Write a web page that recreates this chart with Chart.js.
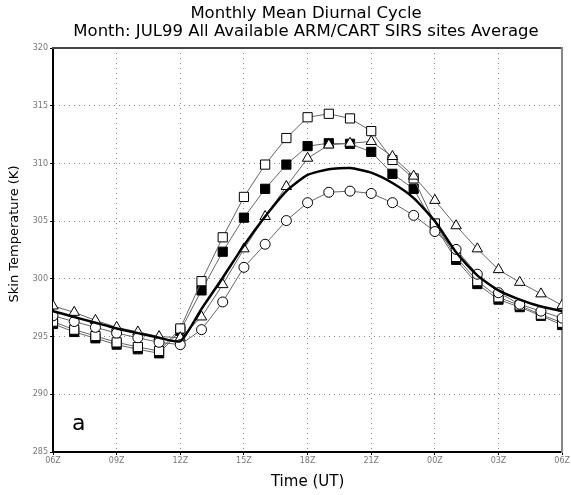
<!DOCTYPE html>
<html>
<head>
<meta charset="utf-8">
<script src="https://cdn.jsdelivr.net/npm/chart.js@4.4.1/dist/chart.umd.min.js"></script>
<style>
  html, body { margin: 0; padding: 0; background: #fff; }
  #wrap { width: 571px; height: 495px; }
</style>
</head>
<body>
<div id="wrap"><canvas id="chart" width="571" height="495"></canvas></div>
<script>
// hours after 06Z, one point per hour
var hours = [0,1,2,3,4,5,6,7,8,9,10,11,12,13,14,15,16,17,18,19,20,21,22,23,24];
var tickLabels = ['06Z','09Z','12Z','15Z','18Z','21Z','00Z','03Z','06Z'];
var yTicks = [285,290,295,300,305,310,315,320];
var titleLines = ['Monthly Mean Diurnal Cycle', 'Month: JUL99 All Available ARM/CART SIRS sites Average'];

var openSquares = [296.3,295.6,295.05,294.5,294.1,293.75,295.7,299.8,303.6,307.1,309.9,312.2,314.0,314.3,313.9,312.8,310.3,308.7,304.8,301.9,299.8,298.4,297.7,296.9,296.2];
var filledSquares = [296.1,295.4,294.85,294.3,293.9,293.55,295.5,299.0,302.35,305.3,307.8,309.9,311.5,311.75,311.7,311.0,309.1,307.8,304.6,301.65,299.55,298.2,297.55,296.8,296.0];
var triangles = [297.65,297.1,296.4,295.8,295.4,295.0,294.9,296.7,299.5,302.6,305.4,308.0,310.45,311.6,311.75,311.9,310.6,308.9,306.8,304.6,302.6,300.8,299.7,298.7,297.7];
var circles = [296.8,296.3,295.8,295.3,294.9,294.5,294.3,295.6,298.0,301.0,303.0,305.05,306.6,307.5,307.6,307.4,306.6,305.5,304.1,302.55,300.4,298.8,297.8,297.2,296.6];
var allSites = [297.2,296.7,296.2,295.7,295.3,294.9,294.6,297.4,300.1,302.9,305.4,307.6,309.0,309.5,309.6,309.2,308.3,307.0,305.0,302.3,300.3,299.0,298.2,297.6,297.2];

function pts(vals) {
  return hours.map(function (h, i) { return { x: h, y: vals[i] }; });
}

function markerSet(vals, style, fill, r) {
  return {
    data: pts(vals),
    borderColor: '#666',
    borderWidth: 1,
    pointStyle: style,
    pointRadius: r,
    pointBackgroundColor: fill,
    pointBorderColor: '#000',
    pointBorderWidth: 1,
    tension: 0
  };
}

// titles, y label and the panel letter
var textPlugin = {
  id: 'texts',
  afterDraw: function (chart) {
    var ctx = chart.ctx;
    var ca = chart.chartArea;
    ctx.save();
    ctx.fillStyle = '#000';
    ctx.textAlign = 'center';
    ctx.textBaseline = 'middle';
    ctx.font = '16.5px "DejaVu Sans", sans-serif';
    ctx.fillText(titleLines[0], 306, 14);
    ctx.fillText(titleLines[1], 306, 32);

    ctx.font = '13px "DejaVu Sans", sans-serif';
    ctx.translate(15, 234);
    ctx.rotate(-Math.PI / 2);
    ctx.fillText('Skin Temperature (K)', 0, 0);
    ctx.restore();

    ctx.save();
    ctx.fillStyle = '#000';
    ctx.font = '22px "DejaVu Sans", sans-serif';
    ctx.textBaseline = 'alphabetic';
    ctx.fillText('a', ca.left + 19, 430);
    ctx.restore();
  }
};

var gridColor = '#888';

new Chart(document.getElementById('chart'), {
  type: 'line',
  data: {
    datasets: [
      { data: pts(allSites), borderColor: '#000', borderWidth: 2.5, pointRadius: 0, tension: 0.2 },
      markerSet(circles, 'circle', '#fff', 5),
      markerSet(triangles, 'triangle', '#fff', 6),
      markerSet(openSquares, 'rect', '#fff', 6.5),
      markerSet(filledSquares, 'rect', '#000', 6.5)
    ]
  },
  plugins: [textPlugin],
  options: {
    responsive: false,
    animation: false,
    layout: { padding: { top: 48, right: 6, left: 0, bottom: 0 } },
    plugins: {
      legend: { display: false },
      tooltip: { enabled: false },
      title: { display: false }
    },
    scales: {
      x: {
        type: 'linear',
        min: 0,
        max: 24,
        afterBuildTicks: function (s) { s.ticks = [0,3,6,9,12,15,18,21,24].map(function (v) { return { value: v }; }); },
        ticks: {
          autoSkip: false,
          maxRotation: 0,
          padding: 1,
          color: '#777',
          font: { family: '"DejaVu Sans", sans-serif', size: 8 },
          callback: function (v) { return tickLabels[v / 3]; }
        },
        grid: { color: gridColor, tickLength: 3, tickColor: '#000' },
        border: { display: true, color: '#000', width: 2, dash: [1, 4] },
        title: {
          display: true,
          text: 'Time (UT)',
          color: '#000',
          font: { family: '"DejaVu Sans", sans-serif', size: 15 },
          padding: { top: 4 }
        },
        afterFit: function (s) { s.height = 43; }
      },
      y: {
        min: 285,
        max: 320,
        afterBuildTicks: function (s) { s.ticks = yTicks.map(function (v) { return { value: v }; }); },
        ticks: {
          padding: 2,
          color: '#777',
          font: { family: '"DejaVu Sans", sans-serif', size: 8 }
        },
        grid: { color: gridColor, tickLength: 3, tickColor: '#000' },
        border: { display: true, color: '#000', width: 2, dash: [1, 4] },
        afterFit: function (s) { s.width = 53; }
      },
      top: {
        position: 'top', type: 'linear', min: 0, max: 24,
        ticks: { display: false }, grid: { display: false },
        border: { display: true, color: '#444', width: 2 },
        afterFit: function (s) { s.height = 0; }
      },
      right: {
        position: 'right', type: 'linear', min: 285, max: 320,
        ticks: { display: false }, grid: { display: false },
        border: { display: true, color: '#888', width: 2 },
        afterFit: function (s) { s.width = 0; }
      }
    }
  }
});
</script>
</body>
</html>
